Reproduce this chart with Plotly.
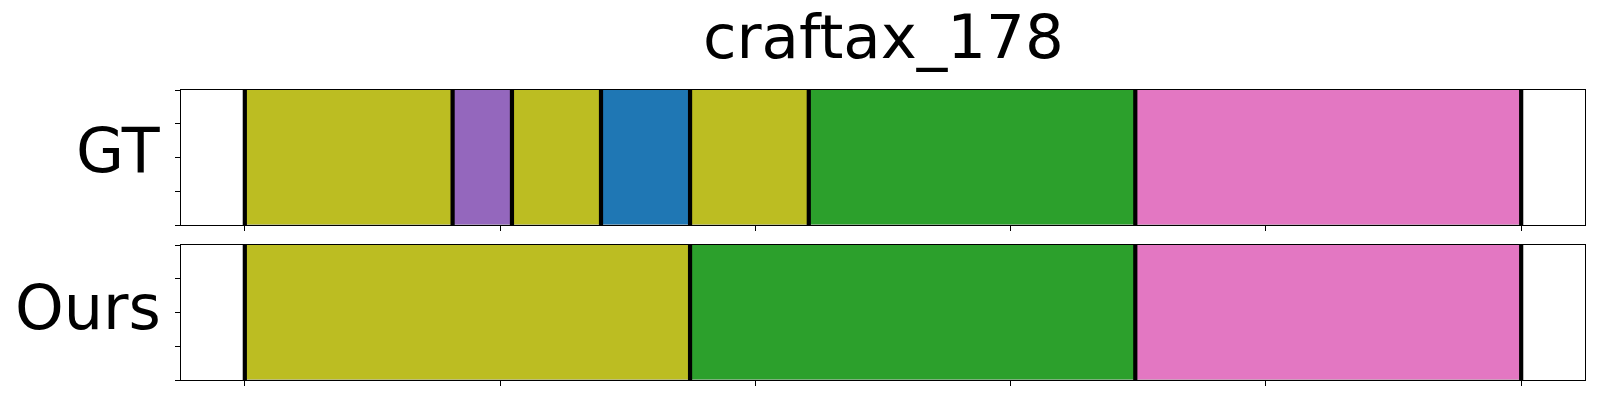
import plotly.graph_objects as go
from plotly.subplots import make_subplots

# ---- data (segment boundaries in frames, class ids per segment) ----
title_text = "craftax_178"
row_labels = ["GT", "Ours"]
total_len = 43

gt_starts = [0, 7, 9, 12, 15, 19, 30]
gt_ends = [7, 9, 12, 15, 19, 30, 43]
gt_classes = [8, 4, 8, 0, 8, 2, 6]

ours_starts = [0, 15, 30]
ours_ends = [15, 30, 43]
ours_classes = [8, 2, 6]

# tab10 palette
palette = ["#1f77b4", "#ff7f0e", "#2ca02c", "#d62728", "#9467bd",
           "#8c564b", "#e377c2", "#7f7f7f", "#bcbd22", "#17becf"]

FONT = "DejaVu Sans"

fig = make_subplots(rows=2, cols=1, shared_xaxes=False, vertical_spacing=0.069)

def add_row(row, starts, ends, classes):
    for s, e, c in zip(starts, ends, classes):
        fig.add_trace(go.Bar(
            orientation="h", y=[0.5], x=[e - s], base=[s], width=[1.0],
            marker=dict(color=palette[c], line=dict(color="rgba(0,0,0,0.15)", width=1)),
            showlegend=False, hoverinfo="skip"), row=row, col=1)
    bounds = list(starts) + [ends[-1]]
    for b in bounds:
        fig.add_trace(go.Scatter(
            x=[b, b], y=[0, 1], mode="lines",
            line=dict(color="black", width=4.2),
            showlegend=False, hoverinfo="skip"), row=row, col=1)

add_row(1, gt_starts, gt_ends, gt_classes)
add_row(2, ours_starts, ours_ends, ours_classes)

pad = 0.05 * total_len
xticks = [total_len * i / 5 for i in range(6)]
for r in (1, 2):
    fig.update_xaxes(range=[-pad, total_len + pad], tickvals=xticks, showticklabels=False,
                     ticks="outside", ticklen=5, tickwidth=1, tickcolor="black",
                     showline=True, linecolor="black", linewidth=1, mirror=True,
                     showgrid=False, zeroline=False, row=r, col=1)
    fig.update_yaxes(range=[0, 1], tickvals=[0, 0.25, 0.5, 0.75, 1], showticklabels=False,
                     ticks="outside", ticklen=5, tickwidth=1, tickcolor="black",
                     showline=True, linecolor="black", linewidth=1, mirror=True,
                     showgrid=False, zeroline=False, row=r, col=1)

fig.update_layout(
    width=1600, height=400,
    margin=dict(l=181, r=15, t=90, b=20),
    plot_bgcolor="white", paper_bgcolor="white",
    barmode="overlay", bargap=0,
    font=dict(family=FONT, color="black"),
)
fig.update_yaxes(domain=[0.5345, 1.0], row=1, col=1)
fig.update_yaxes(domain=[0.0, 0.4655], row=2, col=1)

annotations = [
    dict(text=title_text, xref="paper", yref="paper", x=0.5, y=1.0,
         xanchor="center", yanchor="bottom", yshift=16, showarrow=False,
         font=dict(size=61, family=FONT, color="black")),
    dict(text=row_labels[0], xref="paper", yref="y domain", x=0, y=0.5,
         xanchor="right", yanchor="middle", xshift=-18, yshift=7, showarrow=False,
         font=dict(size=62, family=FONT, color="black")),
    dict(text=row_labels[1], xref="paper", yref="y2 domain", x=0, y=0.5,
         xanchor="right", yanchor="middle", xshift=-18, yshift=5, showarrow=False,
         font=dict(size=62, family=FONT, color="black")),
]
fig.update_layout(annotations=annotations)

fig.write_html("out.html", config={"displayModeBar": False},
               post_script="document.body.style.margin='0';document.body.style.overflow='hidden';")
